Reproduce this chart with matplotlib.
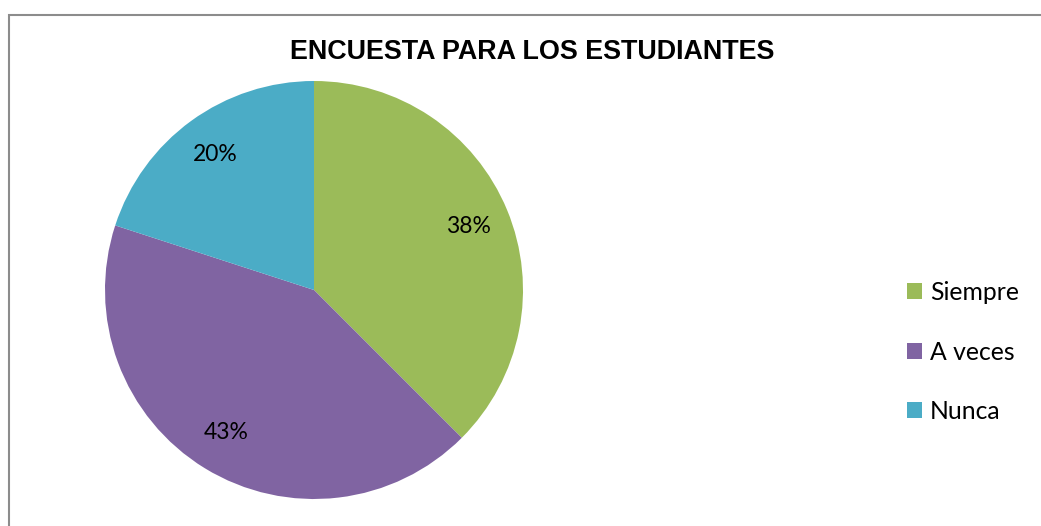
import matplotlib
matplotlib.use("Agg")
import matplotlib.pyplot as plt
from matplotlib.patches import Rectangle

categories = ["Siempre", "A veces", "Nunca"]
values = [15, 17, 8]
pct_labels = ["38%", "43%", "20%"]
colors = ["#9BBB59", "#8064A2", "#4BACC6"]
title = "ENCUESTA PARA LOS ESTUDIANTES"

W, H = 1041, 526
fig = plt.figure(figsize=(W / 100, H / 100), dpi=100)
fig.patch.set_facecolor("white")

# border
fig.add_artist(Rectangle((8.5 / W, -0.1), 1.2, (H - 14.5) / H + 0.1,
                         transform=fig.transFigure, fill=False,
                         edgecolor="#8c8c8c", linewidth=1.5))

cx, cy, r = 314, 290, 209
ax = fig.add_axes([(cx - r) / W, (H - cy - r) / H, 2 * r / W, 2 * r / H])
wedges, texts, autotexts = ax.pie(values, colors=colors, startangle=90,
                                  counterclock=False, radius=1,
                                  autopct="%1.0f%%", pctdistance=0.8,
                                  wedgeprops=dict(linewidth=0))
for t, lab in zip(autotexts, pct_labels):
    t.set_text(lab)
    t.set_fontsize(16.5)
    t.set_family("Lato")
    t.set_color("black")
ax.set_xlim(-1, 1)
ax.set_ylim(-1, 1)
ax.set_aspect("equal")
ax.axis("off")

fig.text(532 / W, 1 - 52 / H, title, ha="center", va="center",
         fontsize=19.4, fontweight="bold", family="Liberation Sans")

leg = fig.legend(wedges, categories, loc="upper left",
                 bbox_to_anchor=(907 / W, 1 - 281 / H),
                 frameon=False, prop={"family": "Lato", "size": 17.8},
                 handlelength=0.62, handleheight=0.62, handletextpad=0.3,
                 labelspacing=1.48, borderpad=0, borderaxespad=0)

fig.savefig("out.png", dpi=100, facecolor="white")
